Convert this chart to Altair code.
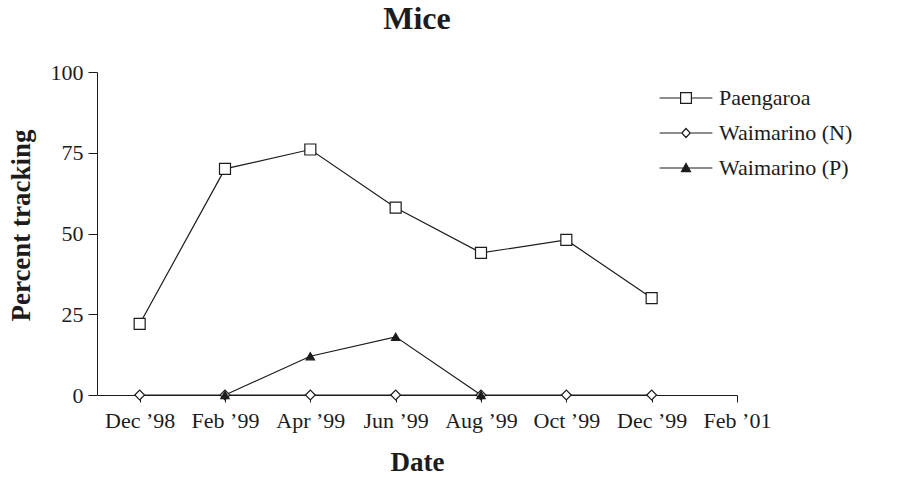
import altair as alt
import pandas as pd

# ---- data ----
dates = ["Dec ’98", "Feb ’99", "Apr ’99", "Jun ’99", "Aug ’99", "Oct ’99", "Dec ’99", "Feb ’01"]
series_names = ["Paengaroa", "Waimarino (N)", "Waimarino (P)"]

paengaroa_dates = ["Dec ’98", "Feb ’99", "Apr ’99", "Jun ’99", "Aug ’99", "Oct ’99", "Dec ’99"]
paengaroa_vals = [22, 70, 76, 58, 44, 48, 30]

waimarino_n_dates = ["Dec ’98", "Feb ’99", "Apr ’99", "Jun ’99", "Aug ’99", "Oct ’99", "Dec ’99"]
waimarino_n_vals = [0, 0, 0, 0, 0, 0, 0]

waimarino_p_dates = ["Feb ’99", "Apr ’99", "Jun ’99", "Aug ’99"]
waimarino_p_vals = [0, 12, 18, 0]

y_ticks = [0, 25, 50, 75, 100]

rows = []
for name, ds, vs in [
    ("Paengaroa", paengaroa_dates, paengaroa_vals),
    ("Waimarino (N)", waimarino_n_dates, waimarino_n_vals),
    ("Waimarino (P)", waimarino_p_dates, waimarino_p_vals),
]:
    for d, v in zip(ds, vs):
        rows.append({"series": name, "date": d, "idx": dates.index(d), "value": v})
df = pd.DataFrame(rows)

FONT = "Liberation Serif"
INK = "#1c1c1c"

label_expr = "[" + ",".join("'" + d + "'" for d in dates) + "][datum.value]"

x_enc = alt.X(
    "idx:Q",
    scale=alt.Scale(domain=[-0.5, len(dates) - 1], nice=False, zero=False),
    axis=alt.Axis(
        title="Date",
        values=list(range(len(dates))),
        labelExpr=label_expr,
        grid=False,
        tickSize=7,
        labelPadding=8,
        labelFontSize=22,
        labelFont=FONT,
        labelColor=INK,
        titleFont=FONT,
        titleFontSize=27,
        titleFontWeight="bold",
        titleColor=INK,
        titleY=75,
        titleBaseline="alphabetic",
        domainColor=INK,
        tickColor=INK,
        labelFlush=False,
        labelOverlap=False,
    ),
)
y_enc = alt.Y(
    "value:Q",
    scale=alt.Scale(domain=[0, 100], nice=False),
    axis=alt.Axis(
        title="Percent tracking",
        values=y_ticks,
        grid=False,
        tickSize=9,
        labelPadding=5,
        labelFontSize=22,
        labelFont=FONT,
        labelColor=INK,
        titleFont=FONT,
        titleFontSize=27,
        titleFontWeight="bold",
        titleColor=INK,
        titleX=-68,
        titleY=153,
        titleAlign="center",
        titleBaseline="alphabetic",
        titleAngle=-90,
        domainColor=INK,
        tickColor=INK,
    ),
)

base = alt.Chart(df)

lines = base.mark_line(color=INK, strokeWidth=1.2).encode(
    x=x_enc, y=y_enc, detail="series:N", order="idx:Q"
)

points = base.mark_point(filled=True, stroke=INK, strokeWidth=1.2, opacity=1).encode(
    x="idx:Q",
    y="value:Q",
    shape=alt.Shape(
        "series:N",
        scale=alt.Scale(domain=series_names, range=["square", "diamond", "triangle-up"]),
        legend=None,
    ),
    fill=alt.Fill(
        "series:N",
        scale=alt.Scale(domain=series_names, range=["white", "white", INK]),
        legend=None,
    ),
    size=alt.Size(
        "series:N",
        scale=alt.Scale(domain=series_names, range=[121, 70, 75]),
        legend=None,
    ),
)

# legend symbols: line segment with marker (unit = 6 px)
sq_path = "M-4.4,0L-0.9,0M0.9,0L4.4,0M-0.9,-0.9L0.9,-0.9L0.9,0.9L-0.9,0.9Z"
di_path = "M-4.4,0L-0.7,0M0.7,0L4.4,0M-0.7,0L0,-0.75L0.7,0L0,0.75Z"
tr_path = "M-4.4,0L4.4,0M-0.75,0.6L0.75,0.6L0,-0.75Z"

legend_props = dict(
    title=None,
    orient="none",
    legendX=578,
    legendY=15,
    padding=0,
    symbolSize=144,
    symbolStrokeWidth=1.2,
    symbolStrokeColor=INK,
    symbolOpacity=1,
    symbolOffset=0,
    labelOffset=22,
    labelFont=FONT,
    labelFontSize=22,
    labelColor=INK,
    labelLimit=400,
    rowPadding=13,
)

legend_layer = base.mark_point(filled=True, strokeWidth=1.2, opacity=0).encode(
    x="idx:Q",
    y="value:Q",
    shape=alt.Shape(
        "series:N",
        scale=alt.Scale(domain=series_names, range=[sq_path, di_path, tr_path]),
        legend=alt.Legend(**legend_props),
    ),
    fill=alt.Fill(
        "series:N",
        scale=alt.Scale(domain=series_names, range=["white", "white", INK]),
        legend=alt.Legend(**legend_props),
    ),
    stroke=alt.Stroke(
        "series:N",
        scale=alt.Scale(domain=series_names, range=[INK, INK, INK]),
        legend=alt.Legend(**legend_props),
    ),
)

chart = (
    alt.layer(lines, points, legend_layer)
    .resolve_scale(shape="independent", fill="independent", size="independent", stroke="independent")
    .properties(
        width=640,
        height=323,
        autosize=alt.AutoSizeParams(type="none"),
        padding={"left": 97, "top": 72, "right": 164, "bottom": 83},
        title=alt.TitleParams(
            "Mice",
            font=FONT,
            fontSize=32,
            fontWeight="bold",
            color=INK,
            anchor="middle",
            offset=25,
        ),
        background="white",
    )
    .configure_view(stroke=None)
)

chart.save("out.html", embed_options={"renderer": "svg", "actions": False})
